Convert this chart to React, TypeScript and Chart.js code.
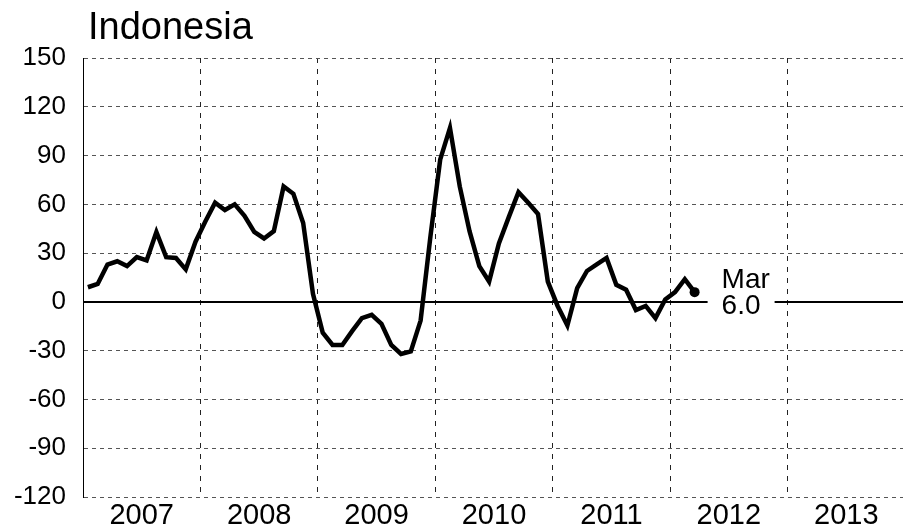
import React, { useEffect, useRef } from 'react';
import { Chart, registerables } from 'chart.js';

Chart.register(...registerables);

const TITLE = 'Indonesia';
const YEARS = ['2007', '2008', '2009', '2010', '2011', '2012', '2013'];
const Y_TICKS = [-120, -90, -60, -30, 0, 30, 60, 90, 120, 150];
const LAST_MONTH = 'Mar';
const LAST_VALUE = '6.0';

// Monthly values, Jan 2007 - Mar 2012
const VALUES_2007 = [9, 11, 23, 25, 22, 27.5, 25.5, 43, 27.5, 27, 20, 37];
const VALUES_2008 = [49.5, 61, 56.5, 60, 53, 43, 39, 43.5, 71, 66.5, 48.5, 5];
const VALUES_2009 = [-19, -26.5, -26.5, -18, -10, -8, -13.5, -26.5, -32, -30.5, -11.5, 40];
const VALUES_2010 = [87.5, 107, 71, 43.5, 22, 12.5, 36, 52, 67.5, 61, 54, 12.5];
const VALUES_2011 = [-2.5, -14.5, 8.5, 19, 23, 27, 10.5, 7.5, -5, -2.5, -10, 1.5];
const VALUES_2012 = [6, 14, 6];

const VALUES = [...VALUES_2007, ...VALUES_2008, ...VALUES_2009, ...VALUES_2010, ...VALUES_2011, ...VALUES_2012];

const FONT = '"Liberation Sans", Arial, Helvetica, sans-serif';

export default function App() {
  const ref = useRef<HTMLCanvasElement>(null);

  useEffect(() => {
    const canvas = ref.current;
    if (!canvas) return;
    const points = VALUES.map((v, i) => ({ x: i + 0.5, y: v }));
    const lastIdx = VALUES.length - 1;
    const monthsTotal = YEARS.length * 12;

    const overlay = {
      id: 'overlay',
      beforeDatasetsDraw(chart: any) {
        const { ctx, chartArea, scales } = chart;
        const y0 = Math.round(scales.y.getPixelForValue(0));
        ctx.save();
        ctx.strokeStyle = '#000';
        ctx.lineWidth = 2;
        ctx.setLineDash([]);
        ctx.beginPath();
        ctx.moveTo(chartArea.left, y0);
        ctx.lineTo(chartArea.right, y0);
        ctx.stroke();
        ctx.restore();
      },
      afterDatasetsDraw(chart: any) {
        const { ctx, scales } = chart;
        const px = scales.x.getPixelForValue(points[lastIdx].x);
        const y0 = scales.y.getPixelForValue(0);
        ctx.save();
        ctx.fillStyle = '#fff';
        ctx.fillRect(px + 13, y0 - 40, 67, 58);
        ctx.fillStyle = '#000';
        ctx.font = `28px ${FONT}`;
        ctx.textBaseline = 'alphabetic';
        ctx.textAlign = 'left';
        ctx.fillText(LAST_MONTH, px + 27, y0 - 14);
        ctx.fillText(LAST_VALUE, px + 27, y0 + 12);
        ctx.font = `38px ${FONT}`;
        ctx.fillText(TITLE, 88, 39);
        ctx.restore();
      },
    };

    const chart = new Chart(canvas, {
      type: 'line',
      data: {
        datasets: [
          {
            data: points,
            borderColor: '#000',
            borderWidth: 4.5,
            pointRadius: (c: any) => (c.dataIndex === lastIdx ? 5 : 0),
            pointHoverRadius: 0,
            pointBackgroundColor: '#000',
            pointBorderWidth: 0,
            tension: 0,
            fill: false,
          },
        ],
      },
      options: {
        responsive: false,
        animation: false,
        devicePixelRatio: 1,
        events: [],
        layout: { padding: { top: 58, left: 0, right: 0, bottom: 0 } },
        plugins: {
          legend: { display: false },
          tooltip: { enabled: false },
          title: { display: false },
        },
        scales: {
          x: {
            type: 'linear',
            min: 0,
            max: monthsTotal,
            afterBuildTicks: (s: any) => {
              const t = [];
              for (let v = 0; v <= monthsTotal; v += 6) t.push({ value: v });
              s.ticks = t;
            },
            afterFit: (s: any) => {
              s.height = 35;
            },
            ticks: {
              autoSkip: false,
              maxRotation: 0,
              minRotation: 0,
              padding: 2,
              color: '#000',
              font: { family: FONT, size: 29 },
              callback: (v: any) => (Number(v) % 12 === 6 ? YEARS[(Number(v) - 6) / 12] : ''),
            },
            grid: {
              drawTicks: false,
              lineWidth: 1,
              color: (c: any) =>
                c.tick && c.tick.value % 12 === 0 && c.tick.value > 0 && c.tick.value < monthsTotal
                  ? '#222'
                  : 'rgba(0,0,0,0)',
              borderDash: [5, 6],
            } as any,
            border: { display: false, dash: [5, 6] },
          },
          y: {
            type: 'linear',
            min: -120,
            max: 150,
            afterBuildTicks: (s: any) => {
              s.ticks = Y_TICKS.map((value) => ({ value }));
            },
            afterFit: (s: any) => {
              s.width = 83;
            },
            ticks: {
              padding: 17,
              color: '#000',
              font: { family: FONT, size: 26 },
            },
            grid: {
              drawTicks: false,
              lineWidth: 1,
              color: (c: any) => (c.tick && c.tick.value === 0 ? 'rgba(0,0,0,0)' : '#555'),
              borderDash: [4, 4],
            } as any,
            border: { display: true, color: '#000', width: 1, dash: [4, 4] },
          },
        },
      } as any,
      plugins: [overlay],
    });

    return () => {
      chart.destroy();
    };
  }, []);

  return (
    <div
      style={{
        position: 'absolute',
        left: 0,
        top: 0,
        width: 903,
        height: 532,
        overflow: 'hidden',
        background: '#fff',
      }}
    >
      <canvas ref={ref} width={910} height={532} style={{ display: 'block' }} />
    </div>
  );
}
